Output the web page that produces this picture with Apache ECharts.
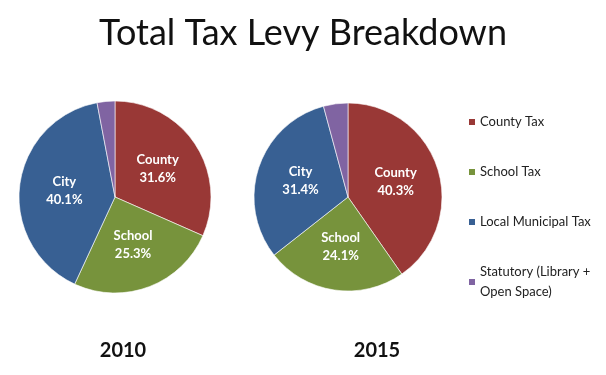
<!DOCTYPE html>
<html>
<head>
<meta charset="utf-8">
<script src="https://cdn.jsdelivr.net/npm/echarts@6/dist/echarts.min.js"></script>
<style>
  html, body { margin: 0; padding: 0; background: #fff; }
  #chart { width: 606px; height: 375px; }
</style>
</head>
<body>
<div id="chart"></div>
<script>
// legend names, short slice labels, colours
const categories = ["County Tax", "School Tax", "Local Municipal Tax", "Statutory (Library +\nOpen Space)"];
const sliceLabels = ["County", "School", "City", ""];
const colors = ["#993836", "#77933c", "#386093", "#8064a2"];

// shares in percent
const values2010 = [31.6, 25.3, 40.1, 3.0];
const values2015 = [40.3, 24.1, 31.4, 4.2];
const years = ["2010", "2015"];

const font = "Lato, 'Open Sans', sans-serif";

function pieSeries(values, center, radius) {
  return {
    type: "pie",
    center: center,
    radius: radius,
    startAngle: 90,
    clockwise: true,
    avoidLabelOverlap: false,
    itemStyle: { borderColor: "#fff", borderWidth: 0.6 },
    label: {
      show: true,
      position: "inner",
      color: "#fff",
      fontFamily: font,
      fontWeight: "bold",
      fontSize: 13,
      lineHeight: 18,
      formatter: (p) => sliceLabels[p.dataIndex] ? sliceLabels[p.dataIndex] + "\n" + values[p.dataIndex].toFixed(1) + "%" : ""
    },
    labelLine: { show: false },
    emphasis: { disabled: true },
    data: values.map((v, i) => ({
      name: categories[i],
      value: v,
      itemStyle: { color: colors[i] },
      label: sliceLabels[i] ? undefined : { show: false }
    }))
  };
}

const chart = echarts.init(document.getElementById("chart"));
chart.setOption({
  animation: false,
  backgroundColor: "#fff",
  title: [
    {
      text: "Total Tax Levy Breakdown",
      left: "center",
      top: 10,
      textStyle: { fontFamily: font, fontWeight: "normal", fontSize: 36, color: "#111" }
    },
    {
      text: years[0],
      left: 118, textAlign: "center",
      top: 336,
      textStyle: { fontFamily: font, fontWeight: "bold", fontSize: 20, color: "#111" }
    },
    {
      text: years[1],
      left: 372, textAlign: "center",
      top: 336,
      textStyle: { fontFamily: font, fontWeight: "bold", fontSize: 20, color: "#111" }
    }
  ],
  legend: {
    orient: "vertical",
    left: 462,
    top: 107,
    icon: "rect",
    itemWidth: 8,
    itemHeight: 8,
    itemGap: 30,
    selectedMode: false,
    data: categories,
    textStyle: { fontFamily: font, fontSize: 13, color: "#222", lineHeight: 20, padding: [0, 0, 0, -1] }
  },
  series: [
    pieSeries(values2010, [115, 197], 96),
    pieSeries(values2015, [348, 197], 94)
  ]
});
</script>
</body>
</html>
